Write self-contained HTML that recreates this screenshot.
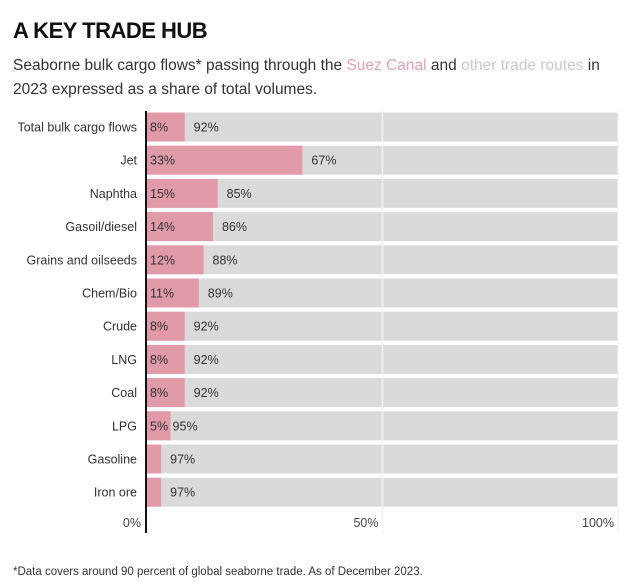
<!DOCTYPE html>
<html><head><meta charset="utf-8"><style>
body{margin:0;background:#fff;font-family:"Liberation Sans",sans-serif;}
#wrap{position:relative;width:624px;height:586px;overflow:hidden;}
h1{position:absolute;left:13px;top:18px;margin:0;font-size:22px;font-weight:bold;letter-spacing:-0.5px;color:#111;}
#sub{position:absolute;left:13px;top:54px;width:605px;font-size:15.5px;line-height:24px;color:#333;}
#foot{position:absolute;left:13px;top:566px;font-size:11.5px;color:#333;}
</style></head><body>
<div id="wrap">
<h1>A KEY TRADE HUB</h1>
<div id="sub">Seaborne bulk cargo flows* passing through the <span style="color:#e3a2b2">Suez Canal</span> and <span style="color:#c9c9c9">other trade routes</span> in 2023 expressed as a share of total volumes.</div>
<svg id="chart" width="624" height="586" style="position:absolute;left:0;top:0"></svg>
<div id="foot">*Data covers around 90 percent of global seaborne trade. As of December 2023.</div>
</div>
<script>
const categories=["Total bulk cargo flows","Jet","Naphtha","Gasoil/diesel","Grains and oilseeds","Chem/Bio","Crude","LNG","Coal","LPG","Gasoline","Iron ore"];
const suezValues=[8,33,15,14,12,11,8,8,8,5,3,3];
const otherValues=[92,67,85,86,88,89,92,92,92,95,97,97];
const showSuezLabel=[true,true,true,true,true,true,true,true,true,true,false,false];
const tickValues=[0,50,100];
const tickLabels=["0%","50%","100%"];
const NS="http://www.w3.org/2000/svg";
const svg=document.getElementById('chart');
const x0=147,x1=618,yTop=127,step=33.2,bh=29;
const x=v=>x0+(x1-x0)*v/100;
const y=i=>yTop+i*step;
function mk(t,a){const e=document.createElementNS(NS,t);for(const k in a)e.setAttribute(k,a[k]);svg.appendChild(e);return e;}
categories.forEach((c,i)=>{
  const cy=y(i);
  const bg=mk('rect',{x:x0,y:cy-bh/2,width:x(100)-x0,height:bh,fill:'#dadada'});
  
  
  const s=mk('rect',{x:x0,y:cy-bh/2,width:x(suezValues[i])-x0,height:bh,fill:'#e09aa8'});
  
  
  const l=mk('text',{x:137,y:cy+4.5,'text-anchor':'end','font-size':12.5,fill:'#333'});l.textContent=c;
  
  
  if(showSuezLabel[i]){const t=mk('text',{x:x0+3,y:cy+4.5,'font-size':12.5,fill:'#333'});t.textContent=suezValues[i]+'%';
  
  }
  const o=mk('text',{x:x(suezValues[i])+(showSuezLabel[i]&&suezValues[i]<6?2:9),y:cy+4.5,'font-size':12.5,fill:'#333'});o.textContent=otherValues[i]+'%';
  
  
});
tickValues.forEach((v,i)=>{
  if(v>0){const g=mk('line',{x1:x(v),x2:x(v),y1:111,y2:533,stroke:'#f2f2f2','stroke-width':1.5,'stroke-opacity':0.9});
  
  }
  const t=mk('text',{x:v==0?x(v)-6:x(v)-4,y:527,'text-anchor':'end','font-size':12.5,fill:'#444'});t.textContent=tickLabels[i];
  
  
});
const ax=mk('line',{x1:146,x2:146,y1:111,y2:533,stroke:'#111','stroke-width':2});


</script>
</body></html>
